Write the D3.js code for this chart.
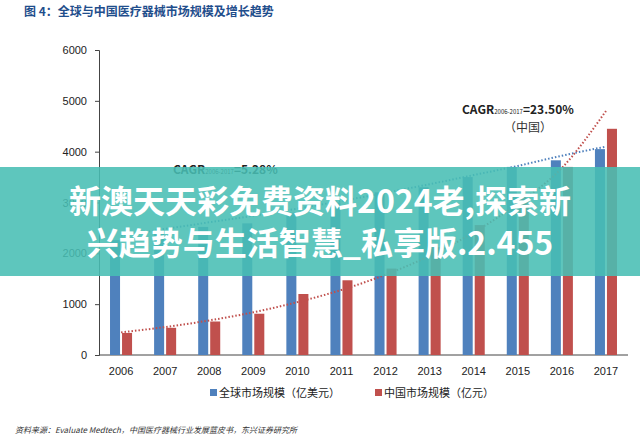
<!DOCTYPE html><html><head><meta charset="utf-8"><script src="https://cdn.jsdelivr.net/npm/d3@7"></script>
<style>body{margin:0;background:#fff}svg{display:block}</style></head><body><svg id="c" width="640" height="436"></svg>
<script>
const years=["2006","2007","2008","2009","2010","2011","2012","2013","2014","2015","2016","2017"];
const globalVals=[2260,2400,2520,2590,2800,3000,3200,3300,3500,3700,3830,4050];
const chinaVals=[434,535,659,812,1200,1470,1700,2120,2556,3080,3700,4450];
const globalTrend=[2350,2480,2610,2740,2880,3030,3190,3360,3540,3720,3920,4100];
const chinaTrend=[445,550,680,840,1040,1280,1580,1950,2410,2980,3680,4800];
const yTicks=[0,1000,2000,3000,4000,5000,6000];
const svg=d3.select("#c");
const font="'Noto Sans CJK SC',sans-serif";
const x=d3.scaleBand().domain(years).range([99,628]).paddingInner(0.5).paddingOuter(0.25);
const y=d3.scaleLinear().domain([0,6000]).range([355,50]);
svg.append("text").attr("x",24).attr("y",16).attr("font-family",font).attr("font-weight","bold").attr("font-size",12).attr("fill","#1f4e8c").text("图 4：全球与中国医疗器械市场规模及增长趋势");
const ya=svg.append("g").attr("transform","translate(99,0)").call(d3.axisLeft(y).tickValues(yTicks).tickFormat(d3.format("d")).tickSize(4).tickPadding(8));
ya.selectAll("text").attr("font-family","Liberation Sans,Arial").attr("font-size",11).attr("fill","#222");
ya.select(".domain").attr("stroke","#444");
ya.selectAll(".tick line").attr("stroke","#444");
const xa=svg.append("g").attr("transform","translate(0,355)").call(d3.axisBottom(x).tickSize(0).tickPadding(12));
xa.selectAll("text").attr("font-family","Liberation Sans,Arial").attr("font-size",11).attr("fill","#222");
xa.select(".domain").attr("stroke","#444").attr("d","M99,0H628");
const bw=x.bandwidth();
svg.append("g").selectAll("rect").data(years).join("rect").attr("x",d=>x(d)).attr("width",bw/2-1).attr("y",(d,i)=>y(globalVals[i])).attr("height",(d,i)=>355-y(globalVals[i])).attr("fill","#4f81bd");
svg.append("g").selectAll("rect").data(years).join("rect").attr("x",d=>x(d)+bw/2+1).attr("width",bw/2-1).attr("y",(d,i)=>y(chinaVals[i])).attr("height",(d,i)=>355-y(chinaVals[i])).attr("fill","#c0504d");
const line=d3.line().x((d,i)=>x(years[i])+bw/2).y(d=>y(d)).curve(d3.curveMonotoneX);
svg.append("path").attr("d",line(globalTrend)).attr("fill","none").attr("stroke","#4f81bd").attr("stroke-width",2).attr("stroke-dasharray","1.5 2");
svg.append("path").attr("d",line(chinaTrend)).attr("fill","none").attr("stroke","#c0504d").attr("stroke-width",2).attr("stroke-dasharray","1.5 2");
function cagr(tx,ty,val){const t=svg.append("text").attr("x",tx).attr("y",ty).attr("font-family",font).attr("font-weight","bold").attr("font-size",12).attr("fill","#222");
t.append("tspan").text("CAGR");t.append("tspan").attr("font-size",6).attr("font-weight","normal").text("2006-2017");t.append("tspan").text("="+val);}
cagr(173,174,"5.28%");cagr(462,114,"23.50%");
svg.append("text").attr("x",528).attr("y",132).attr("text-anchor","middle").attr("font-family",font).attr("font-size",12).attr("fill","#333").text("（中国）");
const lg=svg.append("g").attr("font-family",font).attr("font-size",11).attr("fill","#222");
lg.append("rect").attr("x",210).attr("y",389).attr("width",7).attr("height",7).attr("fill","#4f81bd");
lg.append("text").attr("x",219).attr("y",397).text("全球市场规模（亿美元）");
lg.append("rect").attr("x",375).attr("y",389).attr("width",7).attr("height",7).attr("fill","#c0504d");
lg.append("text").attr("x",384).attr("y",397).text("中国市场规模（亿元）");
svg.append("text").attr("x",15).attr("y",433).attr("font-family",font).attr("font-style","italic").attr("font-size",8).attr("fill","#333").text("资料来源：Evaluate Medtech，中国医疗器械行业发展蓝皮书，东兴证券研究所");
svg.append("rect").attr("x",0).attr("y",167).attr("width",640).attr("height",109).attr("fill","rgba(72,190,180,0.88)");
const bt=svg.append("g").attr("font-family",font).attr("font-weight","bold").attr("font-size",32).attr("fill","#fff").attr("text-anchor","middle");
bt.append("text").attr("x",320).attr("y",213).text("新澳天天彩免费资料2024老,探索新");
bt.append("text").attr("x",320).attr("y",255).text("兴趋势与生活智慧_私享版.2.455");
</script></body></html>
